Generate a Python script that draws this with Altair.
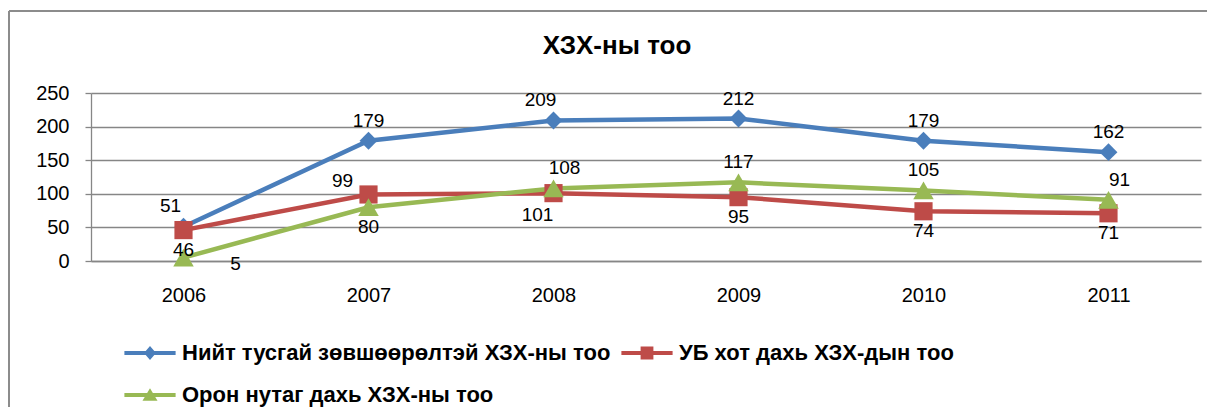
import altair as alt
import pandas as pd

# ---- data ----
years = ["2006", "2007", "2008", "2009", "2010", "2011"]
series = [
    "Нийт тусгай зөвшөөрөлтэй ХЗХ-ны тоо",
    "УБ хот дахь ХЗХ-дын тоо",
    "Орон нутаг дахь ХЗХ-ны тоо",
]
total_vals = [51, 179, 209, 212, 179, 162]
ub_vals = [46, 99, 101, 95, 74, 71]
rural_vals = [5, 80, 108, 117, 105, 91]
# where each data label sits relative to its point
total_lab = ["aboveleft", "above", "aboveleft", "above", "above", "above"]
ub_lab = ["below", "upleft", "belowleft", "below", "below", "below"]
rural_lab = ["right", "below", "aboveright", "above", "above", "aboveright"]
title_text = "ХЗХ-ны тоо"
y_ticks = [0, 50, 100, 150, 200, 250]

colors = ["#4A7EBB", "#BE4B48", "#98B954"]
shapes = ["diamond", "square", "triangle-up"]
sizes = [320, 330, 420]
FONT = "Liberation Sans"

rows = []
for s, vals, labs in zip(series, [total_vals, ub_vals, rural_vals], [total_lab, ub_lab, rural_lab]):
    for y, v, p in zip(years, vals, labs):
        rows.append({"year": y, "value": v, "series": s, "pos": p})
df = pd.DataFrame(rows)

x_enc = alt.X(
    "year:O",
    scale=alt.Scale(type="point", padding=0.5),
    axis=alt.Axis(
        title=None, labelAngle=0, ticks=False, grid=False,
        domainColor="#868686", domainWidth=1.3,
        labelFont=FONT, labelFontSize=20, labelColor="black", labelPadding=24,
    ),
)
y_enc = alt.Y(
    "value:Q",
    scale=alt.Scale(domain=[0, 250], nice=False),
    axis=alt.Axis(
        title=None, values=y_ticks, labelOverlap=False,
        tickSize=6, tickColor="#868686", tickWidth=1.3,
        domainColor="#868686", domainWidth=1.3,
        grid=True, gridColor="#868686", gridWidth=1.3,
        labelFont=FONT, labelFontSize=20, labelColor="black", labelPadding=16,
    ),
)

base = alt.Chart(df).encode(x=x_enc, y=y_enc)

legend_paths = [
    "M-1.6,-0.125H1.6V0.125H-1.6Z M0,-0.44L0.375,0L0,0.44L-0.375,0Z",
    "M-1.6,-0.125H1.6V0.125H-1.6Z M-0.4,-0.4H0.4V0.4H-0.4Z",
    "M-1.6,-0.125H1.6V0.125H-1.6Z M0,-0.42L0.47,0.36L-0.47,0.36Z",
]
sym_expr = "datum.index == 0 ? '%s' : (datum.index == 1 ? '%s' : '%s')" % tuple(legend_paths)

legend = alt.Legend(
    title=None, orient="none", legendX=43, legendY=244,
    direction="horizontal", columns=2,
    symbolType={"expr": sym_expr}, symbolSize=1024, symbolStrokeWidth=0,
    symbolOpacity=1,
    labelFont=FONT, labelFontSize=22, labelFontWeight="bold", labelColor="black",
    labelOffset=16, labelLimit=0, columnPadding=10, rowPadding=15,
)

line_layers = []
point_layers = []
for s, c, sh, sz in zip(series, colors, shapes, sizes):
    line_layers.append(
        base.transform_filter(alt.datum.series == s).mark_line(strokeWidth=4.5, color=c)
    )
    point_layers.append(
        base.transform_filter(alt.datum.series == s)
        .mark_point(filled=True, opacity=1, strokeWidth=0, shape=sh, size=sz)
        .encode(fill=alt.Fill("series:N", scale=alt.Scale(domain=series, range=colors), legend=legend))
    )

offsets = {
    "above": (0, -20), "aboveleft": (-13, -21), "aboveright": (11, -20),
    "below": (0, 20), "belowleft": (-16, 22),
    "upleft": (-26, -13), "right": (52, 6),
}
label_layers = []
for p, (ddx, ddy) in offsets.items():
    label_layers.append(
        base.transform_filter(alt.datum.pos == p)
        .mark_text(font=FONT, fontSize=19, color="black", dx=ddx, dy=ddy, baseline="middle")
        .encode(text="value:Q")
    )

one = pd.DataFrame({"t": [title_text]})
title = alt.Chart(one).mark_text(
    font=FONT, fontSize=26, fontWeight="bold", color="black", baseline="middle"
).encode(x=alt.value(526), y=alt.value(-47), text="t:N")

frame_left = alt.Chart(one).mark_rule(color="#8c8c8c", strokeWidth=2).encode(
    x=alt.value(-82), y=alt.value(-82), y2=alt.value(314)
)
frame_top = alt.Chart(one).mark_rule(color="#8c8c8c", strokeWidth=2).encode(
    y=alt.value(-82), x=alt.value(-82), x2=alt.value(1116)
)

chart = alt.layer(
    *line_layers, *point_layers, *label_layers, frame_left, frame_top, title
).properties(
    width=1110, height=168, padding={"left": 0, "top": 2, "right": 0, "bottom": 0}
).configure_view(stroke=None)

chart.save("out.html", embed_options={"renderer": "svg", "actions": False})
